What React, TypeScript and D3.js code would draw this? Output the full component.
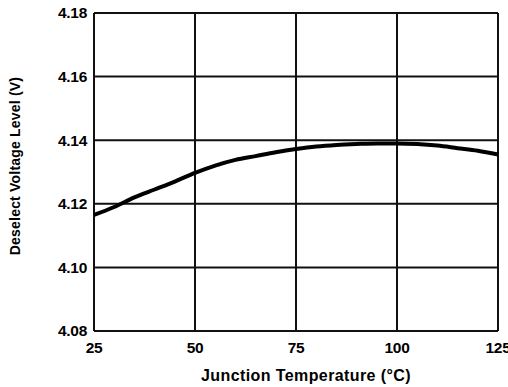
import { useEffect, useRef } from "react";
import * as d3 from "d3";

const temps = [25, 30, 35, 40, 45, 50, 55, 60, 65, 70, 75, 80, 85, 90, 95, 100, 105, 110, 115, 120, 125];
const voltage = [
  4.1165, 4.119, 4.122, 4.1245, 4.127, 4.1297, 4.132, 4.1338, 4.135, 4.1362, 4.1372, 4.138, 4.1385,
  4.1388, 4.139, 4.139, 4.1388, 4.1383, 4.1375, 4.1367, 4.1355,
];
const xTicks = [25, 50, 75, 100, 125];
const yTicks = [4.08, 4.1, 4.12, 4.14, 4.16, 4.18];

const W = 508;
const H = 387;

export default function App() {
  const svgRef = useRef<SVGSVGElement>(null);

  useEffect(() => {
    if (!svgRef.current) return;
    const svg = d3.select(svgRef.current);
    svg.selectAll("*").remove();

    const margin = { top: 13, right: 10, bottom: 56, left: 94 };
    const chartW = W - margin.left - margin.right;
    const chartH = H - margin.top - margin.bottom;

    const x = d3.scaleLinear().domain([25, 125]).range([0, chartW]);
    const y = d3.scaleLinear().domain([4.08, 4.18]).range([chartH, 0]);

    const g = svg.append("g").attr("transform", `translate(${margin.left},${margin.top})`);
    const font = "'Liberation Sans', Arial, sans-serif";

    // grid
    g.append("g")
      .selectAll("line")
      .data(xTicks)
      .join("line")
      .attr("x1", (d) => x(d))
      .attr("x2", (d) => x(d))
      .attr("y1", 0)
      .attr("y2", chartH)
      .attr("stroke", "#111")
      .attr("stroke-width", 2);

    g.append("g")
      .selectAll("line")
      .data(yTicks)
      .join("line")
      .attr("x1", 0)
      .attr("x2", chartW)
      .attr("y1", (d) => y(d))
      .attr("y2", (d) => y(d))
      .attr("stroke", "#111")
      .attr("stroke-width", 2);

    const line = d3
      .line<number>()
      .x((_, i) => x(temps[i]))
      .y((d) => y(d))
      .curve(d3.curveMonotoneX);

    g.append("path")
      .datum(voltage)
      .attr("d", line)
      .attr("fill", "none")
      .attr("stroke", "#000")
      .attr("stroke-width", 4);

    // tick labels
    g.append("g")
      .selectAll("text")
      .data(xTicks)
      .join("text")
      .attr("x", (d) => x(d))
      .attr("y", chartH + 22)
      .attr("text-anchor", "middle")
      .attr("font-family", font)
      .attr("font-weight", "bold")
      .attr("font-size", 15.5)
      .attr("letter-spacing", -0.3)
      .text((d) => String(d));

    g.append("g")
      .selectAll("text")
      .data(yTicks)
      .join("text")
      .attr("x", -7)
      .attr("y", (d) => y(d))
      .attr("dy", "0.35em")
      .attr("text-anchor", "end")
      .attr("font-family", font)
      .attr("font-weight", "bold")
      .attr("font-size", 15.5)
      .attr("letter-spacing", -0.3)
      .text((d) => d.toFixed(2));

    svg
      .append("text")
      .attr("x", 306)
      .attr("y", 381)
      .attr("text-anchor", "middle")
      .attr("font-family", font)
      .attr("font-weight", "bold")
      .attr("font-size", 16)
      .attr("letter-spacing", 0.4)
      .text("Junction Temperature (°C)");

    svg
      .append("text")
      .attr("transform", `translate(20,166) rotate(-90)`)
      .attr("text-anchor", "middle")
      .attr("font-family", font)
      .attr("font-weight", "bold")
      .attr("font-size", 14)
      .attr("letter-spacing", 0.2)
      .text("Deselect Voltage Level (V)");
  }, []);

  return (
    <svg
      ref={svgRef}
      width={W}
      height={H}
      style={{ position: "absolute", left: 0, top: 0, background: "#fff" }}
    />
  );
}
